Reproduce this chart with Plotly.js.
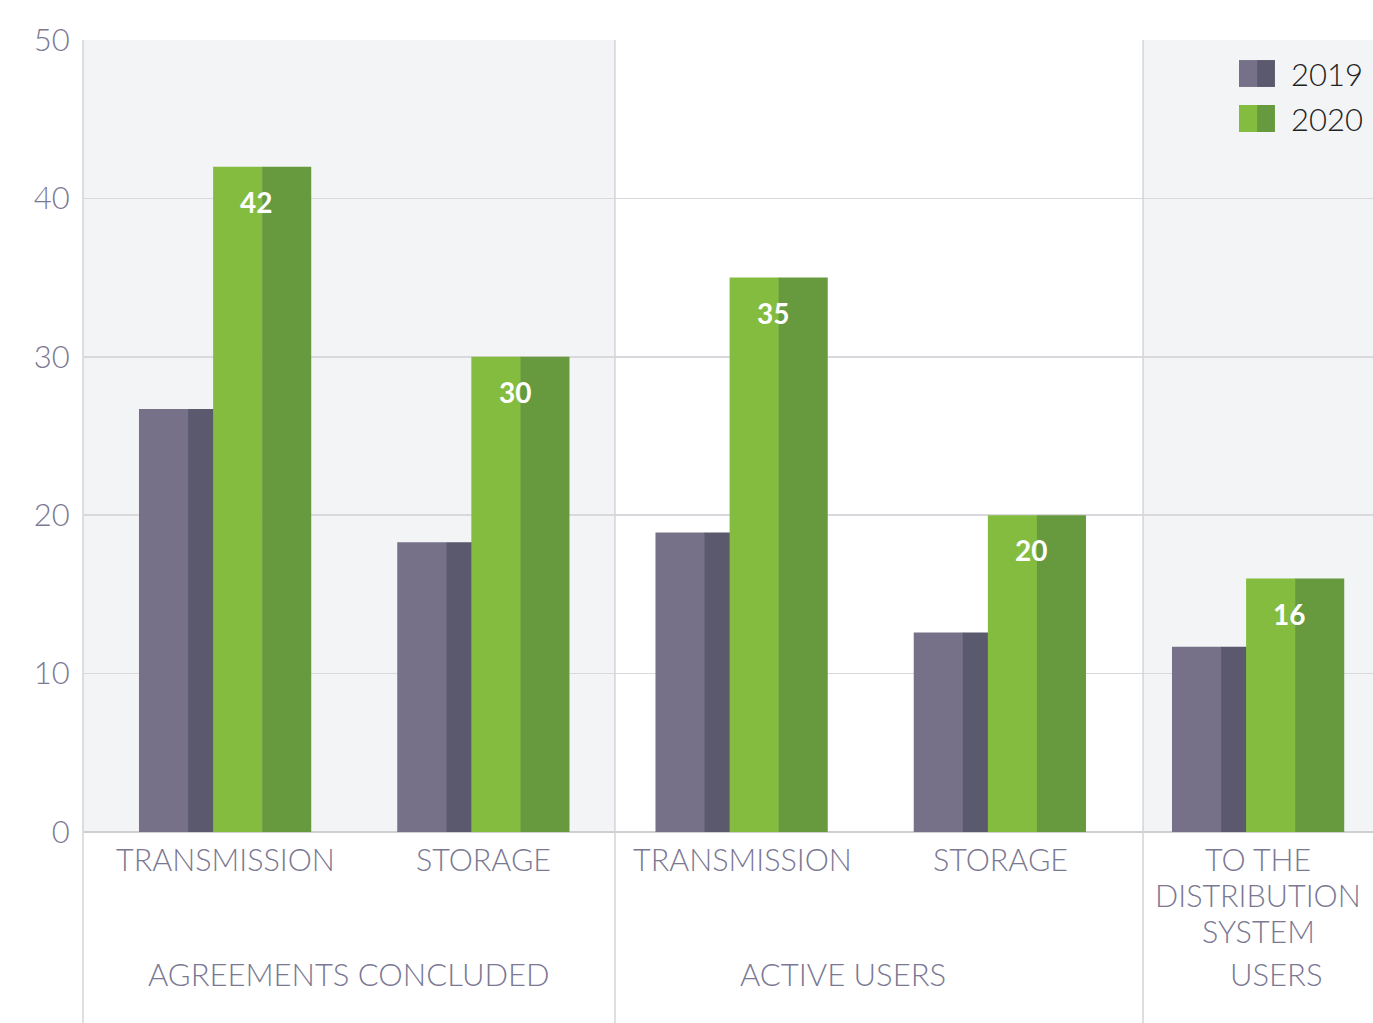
<!DOCTYPE html>
<html>
<head>
<meta charset="utf-8">
<script src="https://cdn.plot.ly/plotly-3.0.1.min.js"></script>
<style>html,body{margin:0;padding:0;background:#fff;}#chart{width:1373px;height:1023px;}</style>
</head>
<body>
<div id="chart"></div>
<script>
// ---- data ----
const categories = ['TRANSMISSION', 'STORAGE', 'TRANSMISSION', 'STORAGE', 'TO THE<br>DISTRIBUTION<br>SYSTEM'];
const groupLabels = ['AGREEMENTS CONCLUDED', 'ACTIVE USERS', 'USERS'];
const seriesNames = ['2019', '2020'];
const values2019 = [26.7, 18.3, 18.9, 12.6, 11.7];
const values2020 = [42, 30, 35, 20, 16];
const yTickVals = [0, 10, 20, 30, 40, 50];

// ---- styling / layout constants ----
const colors = {
  '2019': ['#767188', '#5b596d'],
  '2020': ['#84bc40', '#67993e']
};
const halfWidth = 0.19;
const seriesOffset = { '2019': -0.335, '2020': -0.048 };
const groupLabelX = [0.48, 2.39, 4.07];
const sectionEdges = [-0.6, 1.508, 3.553, 4.6];
const labelGrey = '#7b7893';
const fontFam = 'Lato, "Open Sans", sans-serif';
const catLabelFirstShift = 27;   // px below the baseline
const catLabelLineStep = 36;     // px between lines

const xPos = categories.map((_, i) => i);
const seriesValues = { '2019': values2019, '2020': values2020 };

const traces = [];
seriesNames.forEach(name => {
  [0, 1].forEach(h => {
    traces.push({
      type: 'bar',
      name: name,
      x: xPos,
      y: seriesValues[name],
      offset: seriesOffset[name] + h * halfWidth,
      width: halfWidth + (h === 0 ? 0.002 : 0),
      marker: { color: colors[name][h], line: { width: 0 } },
      showlegend: false,
      hoverinfo: 'skip'
    });
  });
});

const shapes = [];
// shaded sections
[[sectionEdges[0], sectionEdges[1]], [sectionEdges[2], sectionEdges[3]]].forEach(([a, b]) => {
  shapes.push({ type: 'rect', xref: 'x', yref: 'paper', x0: a, x1: b, y0: 0, y1: 1,
    fillcolor: '#f3f4f6', line: { width: 0 }, layer: 'below' });
});
// section separators and left line
[sectionEdges[1], sectionEdges[2]].forEach(xv => {
  shapes.push({ type: 'line', xref: 'x', yref: 'paper', x0: xv, x1: xv, y0: -0.245, y1: 1,
    line: { color: '#d4d4d8', width: 1.5 } });
});
shapes.push({ type: 'line', xref: 'paper', yref: 'paper', x0: 0, x1: 0, y0: -0.245, y1: 1,
  line: { color: '#d4d4d8', width: 1.5 } });

// custom legend (two-tone squares)
const legendY = [[0.9747, 0.9407], [0.9179, 0.8838]];
const legendX = [0.8961, 0.9101, 0.9240];
const annotations = [];
seriesNames.forEach((name, i) => {
  [0, 1].forEach(h => {
    shapes.push({ type: 'rect', xref: 'paper', yref: 'paper',
      x0: legendX[h], x1: legendX[h + 1], y0: legendY[i][1], y1: legendY[i][0],
      fillcolor: colors[name][h], line: { width: 0 } });
  });
  annotations.push({ xref: 'paper', yref: 'paper', x: 0.9349, y: (legendY[i][0] + legendY[i][1]) / 2,
    xanchor: 'left', yanchor: 'middle', text: name, showarrow: false,
    font: { family: fontFam, size: 31, color: '#222222', weight: 300 } });
});

// value labels for 2020
values2020.forEach((v, i) => {
  annotations.push({ x: i + 0.12, y: v, xref: 'x', yref: 'y', yshift: -35,
    xanchor: 'center', yanchor: 'middle', text: '<b>' + v + '</b>', showarrow: false,
    font: { family: fontFam, size: 28, color: '#ffffff' } });
});

// category labels (one annotation per text line, tight line spacing)
categories.forEach((c, i) => {
  c.split('<br>').forEach((line, k) => {
    annotations.push({ x: xPos[i], y: 0, xref: 'x', yref: 'paper',
      yshift: -(catLabelFirstShift + k * catLabelLineStep), borderpad: 0,
      xanchor: 'center', yanchor: 'middle', text: line, showarrow: false,
      font: { family: fontFam, size: 30.5, color: labelGrey, weight: 300 } });
  });
});

// group labels
groupLabels.forEach((g, i) => {
  annotations.push({ x: groupLabelX[i], y: -0.179, xref: 'x', yref: 'paper', borderpad: 0,
    xanchor: 'center', yanchor: 'middle', text: g, showarrow: false,
    font: { family: fontFam, size: 31, color: labelGrey, weight: 300 } });
});

const layout = {
  width: 1373, height: 1023,
  margin: { l: 83, r: 0, t: 40, b: 191 },
  paper_bgcolor: '#ffffff',
  plot_bgcolor: '#ffffff',
  barmode: 'overlay',
  showlegend: false,
  font: { family: fontFam, color: labelGrey },
  xaxis: {
    range: [-0.5518, 4.4434],
    tickmode: 'array', tickvals: xPos, showticklabels: false, ticks: '',
    showgrid: false, zeroline: false, showline: false, fixedrange: true
  },
  yaxis: {
    range: [0, 50],
    tickmode: 'array', tickvals: yTickVals, ticktext: yTickVals.map(String),
    tickfont: { family: fontFam, size: 31, color: labelGrey, weight: 300 },
    ticks: 'outside', ticklen: 6, tickcolor: 'rgba(0,0,0,0)',
    showgrid: true, gridcolor: '#d9d9dd', gridwidth: 1.5,
    zeroline: true, zerolinecolor: '#cfcfd2', zerolinewidth: 2.5,
    showline: false, fixedrange: true
  },
  shapes: shapes,
  annotations: annotations
};

Plotly.newPlot('chart', traces, layout, { displayModeBar: false, staticPlot: true });
</script>
</body>
</html>
